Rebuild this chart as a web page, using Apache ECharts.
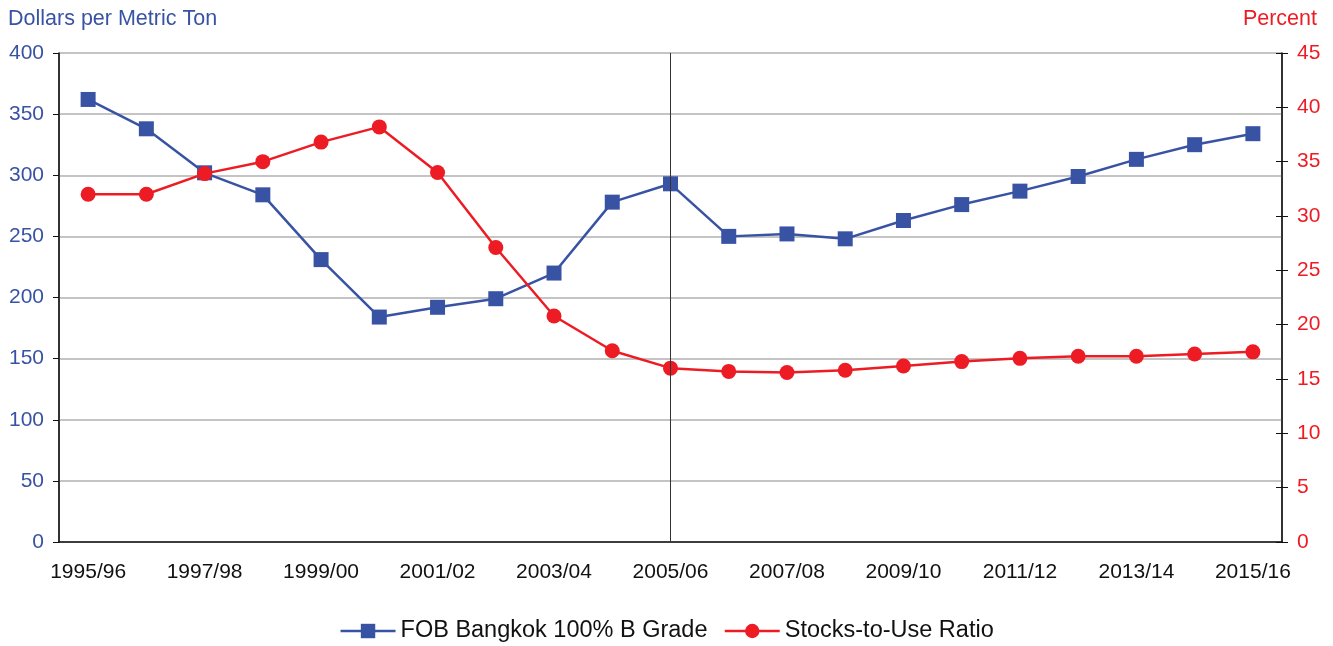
<!DOCTYPE html>
<html>
<head>
<meta charset="utf-8">
<script src="https://cdn.jsdelivr.net/npm/echarts@6/dist/echarts.min.js"></script>
<style>
html,body{margin:0;padding:0;background:#fff;}
#chart{width:1333px;height:646px;}
</style>
</head>
<body>
<div id="chart"></div>
<script>
var categories = ['1995/96','1996/97','1997/98','1998/99','1999/00','2000/01','2001/02','2002/03','2003/04','2004/05','2005/06','2006/07','2007/08','2008/09','2009/10','2010/11','2011/12','2012/13','2013/14','2014/15','2015/16'];
var fobPrice = [362, 338, 302, 284, 231, 184, 192, 199, 220, 278, 293, 250, 252, 248, 263, 276, 287, 299, 313, 325, 334];
var stocksToUse = [32.0, 32.0, 33.9, 35.0, 36.8, 38.2, 34.0, 27.1, 20.8, 17.6, 16.0, 15.7, 15.6, 15.8, 16.2, 16.6, 16.9, 17.1, 17.1, 17.3, 17.5];
var leftTicks = {min: 0, max: 400, interval: 50};
var rightTicks = {min: 0, max: 45, interval: 5};
var markerYear = '2005/06';

var BLUE = '#3953a4', RED = '#ed1c24', FONT = 'Liberation Sans, Arial, sans-serif';
var chart = echarts.init(document.getElementById('chart'), null, {renderer: 'canvas'});
chart.setOption({
  animation: false,
  textStyle: {fontFamily: FONT},
  grid: {left: 59, right: 51, top: 53, bottom: 104, show: true, borderColor: '#333', borderWidth: 1, backgroundColor: 'transparent'},
  graphic: [
    {type: 'text', left: 8, top: 8, style: {text: 'Dollars per Metric Ton', fill: BLUE, font: '21.5px ' + FONT}},
    {type: 'text', right: 16, top: 8, style: {text: 'Percent', fill: RED, font: '21.5px ' + FONT}}
  ],
  legend: {
    top: 619, left: 'center', itemWidth: 55, itemHeight: 18, itemGap: 16, padding: 0,
    lineStyle: {width: 2.5},
    textStyle: {fontSize: 23.5, color: '#111', fontFamily: FONT},
    data: ['FOB Bangkok 100% B Grade', 'Stocks-to-Use Ratio']
  },
  xAxis: {
    type: 'category', data: categories, boundaryGap: true,
    axisLine: {lineStyle: {color: '#111', width: 1.5}},
    axisTick: {interval: 0, length: 6, lineStyle: {color: '#111'}},
    axisLabel: {interval: 1, fontSize: 21, color: '#111', margin: 20, fontFamily: FONT},
    splitLine: {show: false}
  },
  yAxis: [
    {type: 'value', position: 'left', min: leftTicks.min, max: leftTicks.max, interval: leftTicks.interval,
     axisLine: {show: true, lineStyle: {color: '#111', width: 1.5}},
     axisTick: {show: true, length: 6, lineStyle: {color: '#111'}},
     axisLabel: {fontSize: 21, color: BLUE, margin: 15, fontFamily: FONT},
     splitLine: {show: true, lineStyle: {color: '#c4c4c4', width: 2}}},
    {type: 'value', position: 'right', min: rightTicks.min, max: rightTicks.max, interval: rightTicks.interval,
     axisLine: {show: true, lineStyle: {color: '#111', width: 1.5}},
     axisTick: {show: true, length: 6, lineStyle: {color: '#111'}},
     axisLabel: {fontSize: 21, color: RED, margin: 15, fontFamily: FONT},
     splitLine: {show: false}},
    {type: 'value', position: 'right', min: rightTicks.min, max: rightTicks.max, interval: rightTicks.interval,
     axisLine: {show: false},
     axisTick: {show: true, inside: true, length: 6, lineStyle: {color: '#111'}},
     axisLabel: {show: false},
     splitLine: {show: false}}
  ],
  series: [
    {name: 'FOB Bangkok 100% B Grade', type: 'line', yAxisIndex: 0, data: fobPrice,
     symbol: 'rect', symbolSize: 15, z: 3,
     lineStyle: {color: BLUE, width: 2.5}, itemStyle: {color: BLUE}},
    {name: 'Stocks-to-Use Ratio', type: 'line', yAxisIndex: 1, data: stocksToUse,
     symbol: 'circle', symbolSize: 15, z: 4,
     lineStyle: {color: RED, width: 2.5}, itemStyle: {color: RED},
     markLine: {silent: true, symbol: 'none', z: 5, label: {show: false},
       lineStyle: {color: '#333', width: 1, type: 'solid'},
       data: [{xAxis: markerYear}]}}
  ]
});
</script>
</body>
</html>
